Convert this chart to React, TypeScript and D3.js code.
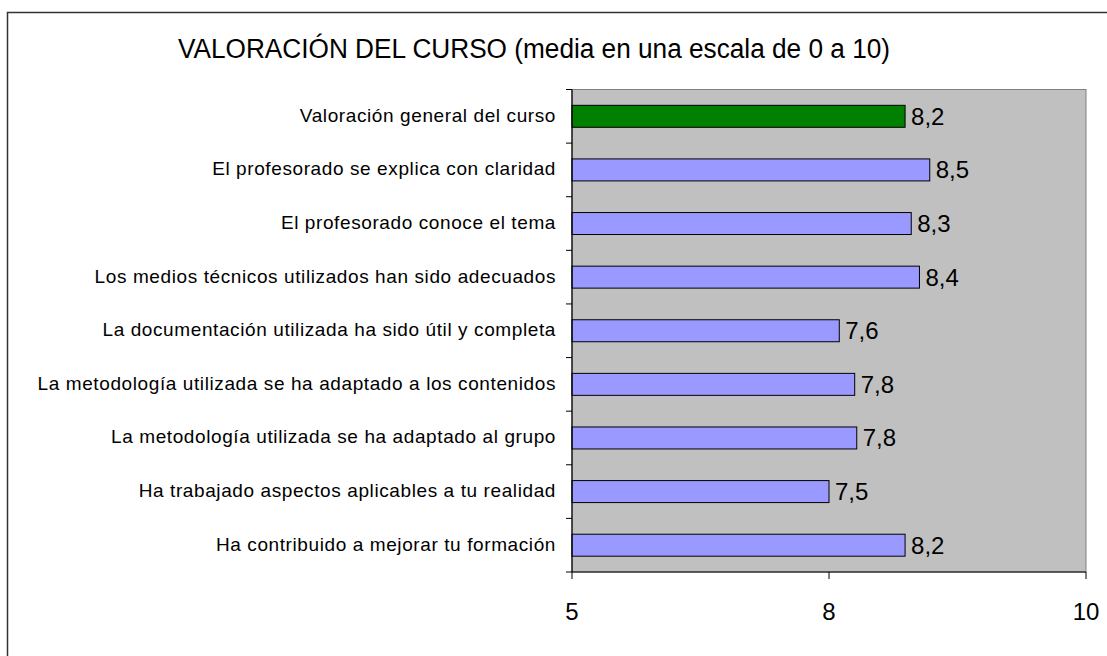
import React, { useEffect, useRef } from "react";
import * as d3 from "d3";

const categories: string[] = [
  "Valoración general del curso",
  "El profesorado se explica con claridad",
  "El profesorado conoce el tema",
  "Los medios técnicos utilizados han sido adecuados",
  "La documentación utilizada ha sido útil y completa",
  "La metodología utilizada se ha adaptado a los contenidos",
  "La metodología utilizada se ha adaptado al grupo",
  "Ha trabajado aspectos aplicables a tu realidad",
  "Ha contribuido a mejorar tu formación",
];
const values: number[] = [8.24, 8.48, 8.3, 8.38, 7.6, 7.75, 7.77, 7.5, 8.24];
const highlight: boolean[] = [true, false, false, false, false, false, false, false, false];
const tickValues: number[] = [5, 7.5, 10];
const title = "VALORACIÓN DEL CURSO (media en una escala de 0 a 10)";

const W = 1107;
const H = 656;
const FONT = "'Liberation Sans', Arial, sans-serif";

export default function App() {
  const ref = useRef<SVGSVGElement>(null);
  useEffect(() => {
    const svg = d3.select(ref.current!);
    svg.selectAll("*").remove();

    const left = 572, right = 1086, top = 89.5, bottom = 572;

    // outer frame
    svg.append("rect")
      .attr("x", 7.5).attr("y", 12.5)
      .attr("width", W + 20).attr("height", H + 20)
      .attr("fill", "white").attr("stroke", "#333").attr("stroke-width", 1.5);

    svg.append("text")
      .attr("x", 178).attr("y", 58)
      .attr("font-family", FONT).attr("font-size", 27)
      .attr("textLength", 712).attr("lengthAdjust", "spacingAndGlyphs")
      .attr("fill", "#000")
      .text(title);

    const x = d3.scaleLinear().domain([5, 10]).range([left, right]);
    const y = d3.scaleBand<string>().domain(categories).range([top, bottom]).paddingInner(0.59).paddingOuter(0.295);
    const band = (bottom - top) / categories.length;

    // plot area
    svg.append("rect")
      .attr("x", left).attr("y", top)
      .attr("width", right - left).attr("height", bottom - top)
      .attr("fill", "#C0C0C0").attr("stroke", "#808080").attr("stroke-width", 1);

    // bars
    svg.append("g").selectAll("rect").data(categories).join("rect")
      .attr("x", left)
      .attr("y", (d) => y(d)!)
      .attr("width", (d, i) => x(values[i]) - left)
      .attr("height", y.bandwidth())
      .attr("fill", (d, i) => (highlight[i] ? "#008000" : "#9999FF"))
      .attr("stroke", "#000").attr("stroke-width", 1);

    // value labels
    svg.append("g").selectAll("text").data(categories).join("text")
      .attr("x", (d, i) => x(values[i]) + 6)
      .attr("y", (d) => y(d)! + y.bandwidth() / 2 + 8.5)
      .attr("font-family", FONT).attr("font-size", 24)
      .attr("fill", "#000")
      .text((d, i) => d3.format(".1f")(values[i]).replace(".", ","));

    // category labels
    svg.append("g").selectAll("text").data(categories).join("text")
      .attr("x", 556)
      .attr("y", (d) => y(d)! + y.bandwidth() / 2 + 5.5)
      .attr("text-anchor", "end")
      .attr("font-family", FONT).attr("font-size", 19)
      .attr("letter-spacing", 0.6)
      .attr("fill", "#000")
      .text((d) => d);

    // y axis line & ticks
    const g = svg.append("g");
    g.append("line").attr("x1", left).attr("x2", left).attr("y1", top).attr("y2", bottom)
      .attr("stroke", "#000").attr("stroke-width", 1.2);
    for (let i = 0; i <= categories.length; i++) {
      const yy = top + i * band;
      g.append("line").attr("x1", left - 6).attr("x2", left).attr("y1", yy).attr("y2", yy)
        .attr("stroke", "#000").attr("stroke-width", 1);
    }
    // x axis
    g.append("line").attr("x1", left).attr("x2", right).attr("y1", bottom).attr("y2", bottom)
      .attr("stroke", "#000").attr("stroke-width", 1.2);
    tickValues.forEach((t) => {
      g.append("line").attr("x1", x(t)).attr("x2", x(t)).attr("y1", bottom).attr("y2", bottom + 7)
        .attr("stroke", "#000").attr("stroke-width", 1);
      g.append("text")
        .attr("x", x(t)).attr("y", 620)
        .attr("text-anchor", "middle")
        .attr("font-family", FONT).attr("font-size", 24)
        .attr("fill", "#000")
        .text(d3.format(".0f")(Math.round(t)));
    });
  }, []);

  return (
    <svg ref={ref} width={W} height={H}
      style={{ position: "absolute", left: 0, top: 0, background: "white" }} />
  );
}
